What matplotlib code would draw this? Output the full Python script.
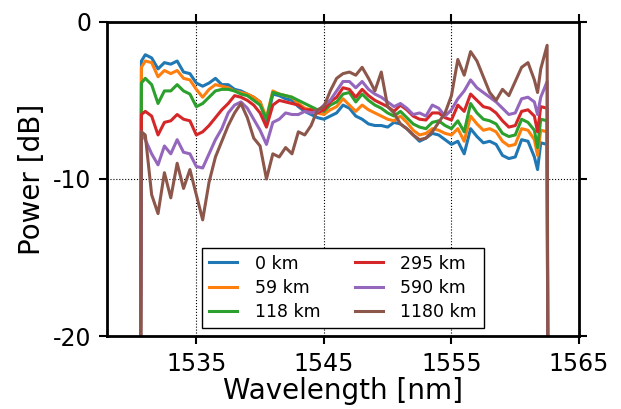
import matplotlib
matplotlib.use("Agg")
import matplotlib.pyplot as plt


# sampled wavelength grid [nm]
wavelength = [
    1530.62, 1530.7, 1531.0, 1531.5, 1532.0, 1532.5, 1533.0, 1533.5, 1534.0,
    1534.5, 1535.0, 1535.5, 1536.0, 1536.5, 1537.0, 1537.5, 1538.0, 1538.5,
    1539.0, 1539.5, 1540.0, 1540.5, 1541.0, 1541.5, 1542.0, 1542.5, 1543.0,
    1543.5, 1544.0, 1544.5, 1545.0, 1545.5, 1546.0, 1546.5, 1547.0, 1547.5,
    1548.0, 1548.5, 1549.0, 1549.5, 1550.0, 1550.5, 1551.0, 1551.5, 1552.0,
    1552.5, 1553.0, 1553.5, 1554.0, 1554.5, 1555.0, 1555.5, 1556.0, 1556.5,
    1557.0, 1557.5, 1558.0, 1558.5, 1559.0, 1559.5, 1560.0, 1560.5, 1561.0,
    1561.5, 1561.75, 1562.0, 1562.5, 1562.56,
]

p_0km = [
    -25, -2.5, -2.1, -2.3, -3.0, -2.6, -2.7, -2.5, -3.2,
    -3.3, -3.9, -4.1, -3.9, -3.6, -4.0, -4.0, -4.3, -4.4,
    -4.6, -4.8, -5.1, -6.4, -4.6, -4.7, -4.9, -5.0, -5.4,
    -5.7, -5.9, -6.1, -6.2, -6.0, -5.8, -5.3, -5.5, -6.0,
    -6.2, -6.5, -6.6, -6.6, -6.7, -6.4, -6.5, -6.8, -7.2,
    -7.6, -7.4, -7.1, -7.2, -7.5, -7.8, -7.6, -8.4, -6.8,
    -7.3, -7.7, -7.6, -7.8, -8.5, -8.7, -8.6, -7.5, -7.6,
    -8.6, -9.4, -7.7, -7.8, -25,
]
p_59km = [
    -25, -2.9, -2.5, -2.6, -3.5, -3.1, -3.3, -3.1, -3.6,
    -3.7, -4.3, -4.8, -4.3, -4.0, -4.1, -4.2, -4.4, -4.5,
    -4.6, -4.8, -5.1, -6.1, -4.4, -4.6, -4.7, -4.8, -5.2,
    -5.5, -5.6, -5.8, -5.9, -5.6, -5.4, -4.9, -5.3, -5.7,
    -5.3, -5.6, -5.8, -6.0, -6.2, -6.3, -6.0, -6.4, -6.9,
    -7.2, -7.1, -6.8, -6.9, -7.1, -7.2, -6.8, -7.6, -6.0,
    -6.5, -6.9, -6.8, -7.0, -7.6, -7.9, -7.8, -6.8, -6.9,
    -7.5, -8.5, -6.9, -7.0, -25,
]
p_118km = [
    -25, -3.9, -3.6, -4.0, -5.2, -4.4, -4.4, -4.0, -4.4,
    -4.6, -5.4, -5.2, -4.8, -4.4, -4.3, -4.3, -4.4, -4.6,
    -4.7, -5.0, -5.3, -6.2, -4.5, -4.6, -4.7, -4.8, -5.0,
    -5.2, -5.4, -5.6, -5.7, -5.3, -5.1, -4.6, -4.5, -5.1,
    -4.6, -5.0, -5.3, -5.5, -5.8, -6.0, -5.7, -6.1, -6.5,
    -6.7, -6.8, -6.4, -6.3, -6.6, -6.8, -6.3, -7.0, -5.2,
    -5.8, -6.2, -6.3, -6.5, -7.1, -7.3, -7.2, -6.2, -6.4,
    -6.9, -8.0, -6.2, -6.3, -25,
]
p_295km = [
    -25, -5.9, -5.7, -6.0, -7.2, -6.4, -6.3, -5.9, -6.2,
    -6.3, -7.2, -7.0, -6.6, -6.1, -5.6, -5.2, -4.7, -4.8,
    -5.0, -5.3, -5.8, -6.7, -5.3, -5.0, -5.1, -5.2, -5.3,
    -5.6, -5.6, -5.8, -5.6, -5.1, -4.8, -4.2, -4.3, -4.8,
    -4.3, -4.7, -5.0, -5.2, -5.4, -5.7, -5.3, -5.6, -6.0,
    -6.2, -6.25, -5.8, -5.8, -6.1, -6.25, -5.3, -5.7, -4.6,
    -5.0, -5.4, -5.5, -5.8, -6.3, -6.7, -6.6, -5.7, -5.6,
    -6.0, -7.0, -5.4, -5.5, -25,
]
p_590km = [
    -25, -7.0, -7.5, -8.4, -9.1, -7.9, -8.4, -7.5, -8.3,
    -8.4, -9.2, -9.3, -8.4, -7.5, -6.8, -5.8, -5.3, -5.1,
    -5.5, -6.2, -6.9, -7.8, -6.4, -6.2, -5.8, -5.9, -5.9,
    -5.7, -5.8, -5.7, -5.3, -5.0, -4.4, -3.8, -3.8, -4.2,
    -3.8, -4.3, -4.6, -4.8, -5.1, -5.4, -5.2, -5.5, -5.9,
    -5.8, -6.0, -5.3, -5.5, -6.0, -5.6, -4.9, -4.4, -3.7,
    -4.2, -4.5, -4.8, -5.1, -5.5, -5.9, -5.8, -4.9, -4.8,
    -5.1, -5.9, -4.8, -3.8, -25,
]
p_1180km = [
    -25, -7.0, -7.2, -11.0, -12.2, -9.6, -11.2, -9.0, -10.6,
    -9.4, -11.0, -12.6, -10.2, -8.6, -7.6, -6.6, -5.8, -5.2,
    -6.1, -7.4, -7.9, -10.0, -8.4, -8.6, -8.0, -8.4, -7.0,
    -7.2, -6.6, -5.6, -5.4, -4.4, -3.6, -3.3, -3.2, -3.4,
    -2.9, -3.6, -4.4, -3.2, -5.4, -5.8, -6.5, -6.8, -7.2,
    -7.5, -7.4, -7.0, -6.4, -5.8, -4.7, -2.4, -3.4, -1.9,
    -2.5, -3.5, -4.5, -5.0, -4.3, -4.7, -3.8, -2.9, -2.6,
    -3.7, -4.5, -3.0, -1.5, -25,
]

series = [
    ("0 km", p_0km),
    ("59 km", p_59km),
    ("118 km", p_118km),
    ("295 km", p_295km),
    ("590 km", p_590km),
    ("1180 km", p_1180km),
]

plt.rcParams["axes.unicode_minus"] = False
plt.rcParams["font.family"] = "DejaVu Sans"

fig = plt.figure(figsize=(6.21, 4.09), dpi=100)
ax = fig.add_axes([0.1723, 0.1778, 0.7601, 0.7691])

for label, values in series:
    ax.plot(wavelength, values, lw=2.2, label=label)

ax.set_xlim(1528, 1565)
ax.set_ylim(-20, 0)
ax.set_xticks([1535, 1545, 1555, 1565])
ax.set_yticks([-20, -10, 0])
ax.grid(True, color="k", linestyle=":", linewidth=0.8)

for side in ax.spines.values():
    side.set_linewidth(2)
ax.tick_params(direction="out", length=6, width=1.5, labelsize=17,
               top=True, right=True, pad=5)

ax.set_xlabel("Wavelength [nm]", fontsize=20, labelpad=1)
ax.set_ylabel("Power [dB]", fontsize=20, labelpad=5)

ax.legend(loc="lower center", ncol=2, fontsize=12.5, handlelength=1.6,
          handletextpad=1.0, columnspacing=2.0, labelspacing=0.35,
          fancybox=False, framealpha=1, edgecolor="k", borderaxespad=0.5)

fig.savefig("out.png", dpi=100)
